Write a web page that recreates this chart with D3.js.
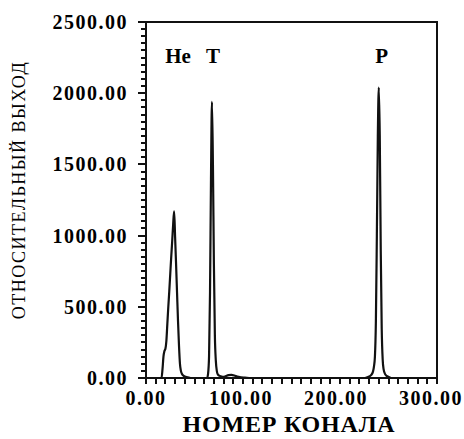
<!DOCTYPE html>
<html lang='ru'>
  <head>
    <meta charset='utf-8'>
    <title>Спектр</title>
    <script src="https://d3js.org/d3.v7.min.js" charset='utf-8'></script>
    <style type="text/css">
      body { margin: 0; background: #fff; }
      svg { display: block; }
      text {
        font-family: "Liberation Serif", "Times New Roman", serif;
        fill: #000;
      }
      .tick-label { font-size: 20px; font-weight: bold; letter-spacing: 1.5px; }
      .peak-label { font-size: 21px; font-weight: bold; }
      .x-title { font-size: 24px; font-weight: bold; letter-spacing: 0.8px; }
      .y-title { font-size: 18px; letter-spacing: 1.5px; }
      .frame { stroke: #111; fill: none; }
      .tk { stroke: #111; stroke-width: 2px; shape-rendering: crispEdges; }
      .spectrum { fill: none; stroke: #111; stroke-width: 2.2px; stroke-linejoin: round; }
    </style>
  </head>
  <body>
    <script type="text/javascript">
      var width = 464, height = 439;

      // spectrum points: channel number and relative yield
      var channels = [0, 15, 16, 17, 18, 19, 20, 21, 22, 23, 24, 25, 26, 27, 28, 29, 30, 31, 32, 33, 34, 35, 36, 37, 38, 40, 43, 46,
        62, 63, 64, 65, 66, 67, 68, 69, 70, 71, 72, 73, 74, 76, 78, 80, 82, 85, 88, 91, 94, 98, 102, 108,
        226, 228, 230, 232, 234, 235, 236, 237, 238, 239, 240, 241, 242, 243, 244, 245, 246, 248, 250, 253, 300];
      var yields = [0, 0, 0, 60, 150, 190, 205, 260, 380, 500, 610, 730, 850, 960, 1080, 1170, 990, 800, 600, 400, 230, 100, 50, 30, 20, 10, 5, 0,
        0, 0, 30, 150, 600, 1400, 1940, 1500, 800, 300, 120, 50, 25, 15, 10, 8, 12, 20, 22, 18, 10, 5, 3, 0,
        0, 5, 10, 20, 45, 80, 150, 400, 1000, 1700, 2040, 1700, 900, 350, 130, 60, 35, 15, 8, 0, 0];

      var xTicks = [0, 100, 200, 300];
      var yTicks = [0, 500, 1000, 1500, 2000, 2500];
      var peakNames = ['He', 'T', 'P'];
      var peakChannels = [33, 69, 243];

      var svg = d3.select('body').append('svg')
        .attr('width', width)
        .attr('height', height);

      var x = d3.scaleLinear().domain([0, 300]).range([146, 437]);
      var y = d3.scaleLinear().domain([0, 2500]).range([378, 22]);

      // minor ticks: every 10 channels on x, every 50 on y
      var xMinor = d3.range(0, 301, 10);
      var yMinor = d3.range(0, 2501, 50);

      svg.selectAll('.xtk')
        .data(xMinor)
        .enter().append('line')
        .attr('class', 'tk')
        .attr('x1', function(d) { return Math.round(x(d)); })
        .attr('x2', function(d) { return Math.round(x(d)); })
        .attr('y1', y(0))
        .attr('y2', y(0) + 6);

      svg.selectAll('.ytk')
        .data(yMinor)
        .enter().append('line')
        .attr('class', 'tk')
        .attr('x1', x(0))
        .attr('x2', function(d) { return x(0) - (d % 500 === 0 ? 8 : 5); })
        .attr('y1', function(d) { return Math.round(y(d)); })
        .attr('y2', function(d) { return Math.round(y(d)); });

      // axes lines and frame
      svg.append('path')
        .attr('class', 'frame')
        .attr('stroke-width', 2)
        .attr('d', 'M' + x(0) + ',' + y(2500) + 'H' + x(300) + 'V' + y(0) + 'H' + x(0) + 'Z');

      // tick labels
      svg.selectAll('.ylab')
        .data(yTicks)
        .enter().append('text')
        .attr('class', 'tick-label')
        .attr('x', 128)
        .attr('y', function(d) { return y(d) + 7; })
        .attr('text-anchor', 'end')
        .text(function(d) { return d3.format('.2f')(d); });

      svg.selectAll('.xlab')
        .data(xTicks)
        .enter().append('text')
        .attr('class', 'tick-label')
        .attr('x', function(d) { return x(d) - d * 0.02; })
        .attr('y', 405)
        .attr('text-anchor', 'middle')
        .text(function(d) { return d3.format('.2f')(d); });

      // spectrum line
      var points = channels.map(function(c, i) { return [c, yields[i]]; });
      var line = d3.line()
        .x(function(d) { return x(d[0]); })
        .y(function(d) { return y(d[1]); })
        .curve(d3.curveMonotoneX);
      svg.append('path')
        .datum(points)
        .attr('class', 'spectrum')
        .attr('d', line);

      // peak labels
      svg.selectAll('.peak')
        .data(peakNames)
        .enter().append('text')
        .attr('class', 'peak-label')
        .attr('x', function(d, i) { return x(peakChannels[i]); })
        .attr('y', 63)
        .attr('text-anchor', 'middle')
        .text(function(d) { return d; });

      // axis titles
      svg.append('text')
        .attr('class', 'x-title')
        .attr('x', 289)
        .attr('y', 432)
        .attr('text-anchor', 'middle')
        .text('НОМЕР КОНАЛА');

      svg.append('text')
        .attr('class', 'y-title')
        .attr('transform', 'translate(25,190) rotate(-90)')
        .attr('text-anchor', 'middle')
        .text('ОТНОСИТЕЛЬНЫЙ ВЫХОД');
    </script>
  </body>
</html>
